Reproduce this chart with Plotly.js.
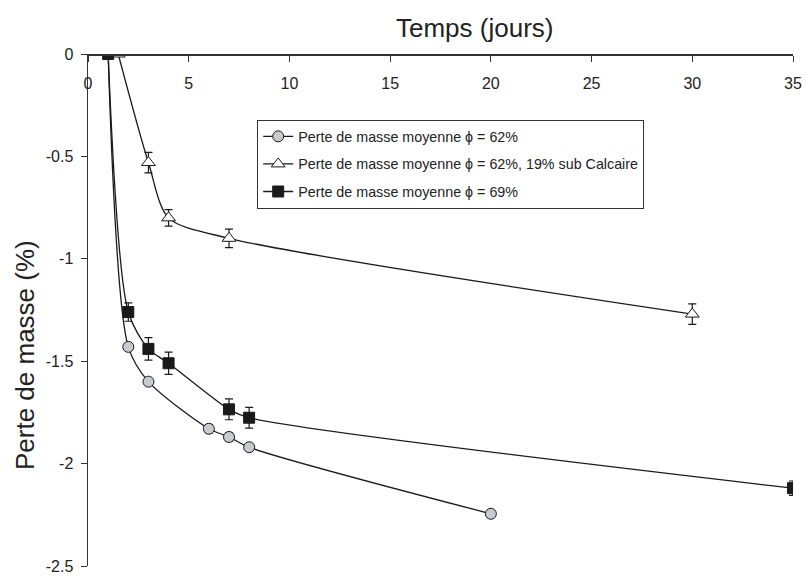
<!DOCTYPE html>
<html>
<head>
<meta charset="utf-8">
<script src="https://cdn.plot.ly/plotly-3.0.1.min.js"></script>
<style>html,body{margin:0;padding:0;background:#fff;}#chart{width:806px;height:581px;}</style>
</head>
<body>
<div id="chart"></div>
<script>
// Série 1 : phi = 62%
const xCirc = [1, 2, 3, 6, 7, 8, 20];
const yCirc = [0, -1.43, -1.60, -1.83, -1.87, -1.92, -2.245];
const eCirc = [0, 0.015, 0.015, 0.02, 0.02, 0.015, 0.015];
// Série 2 : phi = 62%, 19% sub Calcaire
const xTri = [1.5, 3, 4, 7, 30];
const yTri = [0, -0.53, -0.80, -0.90, -1.27];
const eTri = [0, 0.05, 0.04, 0.045, 0.05];
// Série 3 : phi = 69%
const xSq = [1, 2, 3, 4, 7, 8, 35];
const ySq = [0, -1.26, -1.44, -1.51, -1.735, -1.776, -2.12];
const eSq = [0, 0.045, 0.055, 0.054, 0.051, 0.051, 0.035];

const names = [
  'Perte de masse moyenne \u03D5 = 62%',
  'Perte de masse moyenne \u03D5 = 62%, 19% sub Calcaire',
  'Perte de masse moyenne \u03D5 = 69%'
];
const xTickVals = [0, 5, 10, 15, 20, 25, 30, 35];
const xTickText = ['0', '5', '10', '15', '20', '25', '30', '35'];
const yTickVals = [0, -0.5, -1, -1.5, -2, -2.5];
const yTickText = ['0', '-0.5', '-1', '-1.5', '-2', '-2.5'];

const FONT = 'Liberation Sans, Arial, sans-serif';
const lineStyle = {color: '#1a1a1a', width: 1.3, shape: 'spline', smoothing: 0.8};
const errStyle = (arr) => ({type: 'data', array: arr, visible: true, color: '#1a1a1a', thickness: 1.2, width: 4});

const traces = [
  {x: xCirc, y: yCirc, name: names[0], mode: 'lines+markers', type: 'scatter',
   line: lineStyle, error_y: errStyle(eCirc), legendgroup: 'a',
   marker: {symbol: 'circle', size: 11, color: '#c8cad0', line: {color: '#1a1a1a', width: 1}}},
  {x: xTri, y: yTri, name: names[1], mode: 'lines+markers', type: 'scatter',
   line: lineStyle, error_y: errStyle(eTri), legendgroup: 'b',
   marker: {symbol: 'triangle-up', size: 12, color: '#ffffff', line: {color: '#1a1a1a', width: 1}}},
  {x: xSq, y: ySq, name: names[2], mode: 'lines+markers', type: 'scatter',
   line: lineStyle, error_y: errStyle(eSq), legendgroup: 'c',
   marker: {symbol: 'square', size: 11, color: '#1a1a1a', line: {color: '#1a1a1a', width: 1}}}
];

const layout = {
  width: 806, height: 581,
  margin: {l: 88, r: 13, t: 54, b: 15, pad: 0},
  paper_bgcolor: '#fff', plot_bgcolor: '#fff',
  font: {family: FONT, color: '#222', size: 16},
  showlegend: true,
  legend: {
    x: 0.240, y: 0.872, xanchor: 'left', yanchor: 'top',
    bgcolor: '#fff', bordercolor: '#333', borderwidth: 1,
    font: {family: FONT, size: 14.3, color: '#222'},
    traceorder: 'grouped', tracegroupgap: 6, itemwidth: 30
  },
  xaxis: {
    range: [0, 35], side: 'bottom', anchor: 'free', position: 1,
    tickvals: xTickVals, ticktext: xTickText,
    ticks: 'outside', ticklen: 6, tickcolor: '#333', tickwidth: 1, ticklabelstandoff: 8,
    showline: true, linecolor: '#333', linewidth: 1.5,
    showgrid: false, zeroline: false, tickfont: {size: 16, color: '#222'}, fixedrange: true
  },
  yaxis: {
    range: [-2.5, 0], tickvals: yTickVals, ticktext: yTickText,
    ticks: 'outside', ticklen: 6, tickcolor: '#333', tickwidth: 1, ticklabelstandoff: 4,
    showline: true, linecolor: '#333', linewidth: 1.5,
    showgrid: false, zeroline: false, tickfont: {size: 16, color: '#222'}
  },
  annotations: [{
    text: 'Temps (jours)', xref: 'paper', yref: 'paper', x: 0.548, y: 1, yshift: 26,
    xanchor: 'center', yanchor: 'middle', showarrow: false,
    font: {family: FONT, size: 26, color: '#222'}
  }, {
    text: 'Perte de masse (%)', xref: 'paper', yref: 'paper', x: -0.0894, y: 0.412,
    xanchor: 'center', yanchor: 'middle', showarrow: false, textangle: -90,
    font: {family: FONT, size: 26, color: '#222'}
  }]
};

Plotly.newPlot('chart', traces, layout, {staticPlot: true, displayModeBar: false});
</script>
</body>
</html>
